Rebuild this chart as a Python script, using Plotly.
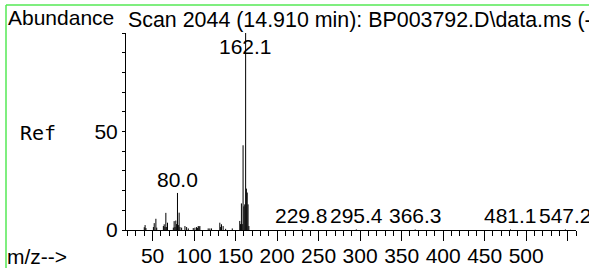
import plotly.graph_objects as go

# ---- data ----
mz = [40, 41, 42, 51, 52, 54, 55, 63, 64, 65, 66, 67, 68, 75, 76, 77, 78, 79,
      80, 81, 82, 83, 85, 89, 91, 93, 99, 101, 103, 104, 105, 106, 107, 117,
      119, 121, 131, 132, 133, 135, 138, 146, 155, 156, 157, 158, 159, 160,
      161, 162.1, 163, 164, 165, 166, 229.8, 295.4, 366.3, 481.1, 547.2]
abundance = [1.4, 2.5, 1.0, 1.5, 3.5, 5.7, 1.2, 2.0, 2.9, 1.5, 8.7, 1.5, 3.7,
             1.2, 4.5, 1.5, 4.8, 3.0, 18.8, 2.5, 8.8, 1.5, 1.2, 2.0, 1.5, 0.8,
             1.0, 1.2, 1.5, 1.0, 2.0, 1.8, 2.0, 0.8, 0.8, 0.8, 3.7, 1.5, 2.9,
             2.0, 0.6, 0.8, 4.6, 3.0, 13.5, 3.0, 43, 12, 13, 100, 21, 19, 13,
             2.0, 0.3, 0.3, 0.3, 0.3, 0.3]
labeled_peaks = [80.0, 162.1, 229.8, 295.4, 366.3, 481.1, 547.2]
x_tick_vals = [50, 100, 150, 200, 250, 300, 350, 400, 450, 500, 550]
x_tick_text = ["50", "100", "150", "200", "250", "300", "350", "400", "450", "500", ""]
y_tick_vals = [0, 50]
y_tick_text = ["0", "50"]
title_text = "Scan 2044 (14.910 min): BP003792.D\\data.ms (-)"

# ---- geometry ----
W, H = 589, 268
ML, MR, MT, MB = 126, 13, 33, 38
PW, PH = W - ML - MR, H - MT - MB
XR = [18, 560]
YR = [0, 100]
FONT = "Liberation Sans, Arial, sans-serif"
FS = 21


def px(xpix):
    return (xpix - ML) / PW


def py(ypix):
    return 1 - (ypix - MT) / PH


# stick spectrum from the data arrays
xs, ys = [], []
for m, a in zip(mz, abundance):
    xs += [m, m, None]
    ys += [0, a, None]

fig = go.Figure()
fig.add_trace(go.Scatter(x=xs, y=ys, mode="lines",
                         line=dict(color="black", width=1),
                         hoverinfo="skip", showlegend=False))

annotations = []
lookup = dict(zip(mz, abundance))
for p in labeled_peaks:
    a = lookup.get(p, 0)
    if a >= YR[1]:
        annotations.append(dict(x=p, y=YR[1], xref="x", yref="y", text=f"{p:.1f}",
                                showarrow=False, xanchor="center", yanchor="top",
                                font=dict(family=FONT, size=FS, color="black")))
    else:
        annotations.append(dict(x=p, y=a, xref="x", yref="y", text=f"{p:.1f}",
                                showarrow=False, xanchor="center", yanchor="bottom",
                                font=dict(family=FONT, size=FS, color="black")))

annotations += [
    dict(x=px(6), y=py(17.5), xref="paper", yref="paper", text="Abundance",
         showarrow=False, xanchor="left", yanchor="middle",
         font=dict(family=FONT, size=FS, color="black")),
    dict(x=px(126), y=py(19.5), xref="paper", yref="paper", text=title_text,
         showarrow=False, xanchor="left", yanchor="middle",
         font=dict(family=FONT, size=21.4, color="black")),
    dict(x=px(18), y=py(132.5), xref="paper", yref="paper", text="Ref",
         showarrow=False, xanchor="left", yanchor="middle",
         font=dict(family="DejaVu Sans Mono, monospace", size=20, color="black")),
    dict(x=px(5), y=py(256.5), xref="paper", yref="paper", text="m/z-->",
         showarrow=False, xanchor="left", yanchor="middle",
         font=dict(family=FONT, size=FS, color="black")),
]

shapes = [
    dict(type="line", xref="paper", yref="paper", x0=px(6), x1=px(W + 10),
         y0=py(5), y1=py(5), line=dict(color="#55e855", width=1.5)),
    dict(type="line", xref="paper", yref="paper", x0=px(6), x1=px(6),
         y0=py(5), y1=py(H + 10), line=dict(color="#55e855", width=1.5)),
]

fig.update_layout(
    width=W, height=H,
    margin=dict(l=ML, r=MR, t=MT, b=MB, pad=0, autoexpand=False),
    paper_bgcolor="white", plot_bgcolor="white",
    showlegend=False,
    annotations=annotations,
    shapes=shapes,
    font=dict(family=FONT, size=FS, color="black"),
)
fig.update_xaxes(
    range=XR, showgrid=False, zeroline=False,
    showline=True, linecolor="black", linewidth=1,
    tickmode="array", tickvals=x_tick_vals, ticktext=x_tick_text,
    ticks="outside", ticklen=10, tickwidth=1, tickcolor="black",
    ticklabelstandoff=-3,
    tickfont=dict(family=FONT, size=FS, color="black"),
    minor=dict(tickmode="linear", tick0=0, dtick=10, ticks="outside",
               ticklen=5, tickwidth=1, tickcolor="black", showgrid=False),
)
fig.update_yaxes(
    range=YR, showgrid=False, zeroline=False,
    showline=True, linecolor="black", linewidth=1,
    tickmode="array", tickvals=y_tick_vals, ticktext=y_tick_text,
    ticks="outside", ticklen=3, tickwidth=1, tickcolor="black",
    tickfont=dict(family=FONT, size=FS, color="black"),
    minor=dict(tickmode="linear", tick0=0, dtick=10, ticks="outside",
               ticklen=3, tickwidth=1, tickcolor="black", showgrid=False),
)

fig.write_html("out.html",
               config={"displayModeBar": False},
               post_script="document.body.style.margin='0';document.body.style.overflow='hidden';")
